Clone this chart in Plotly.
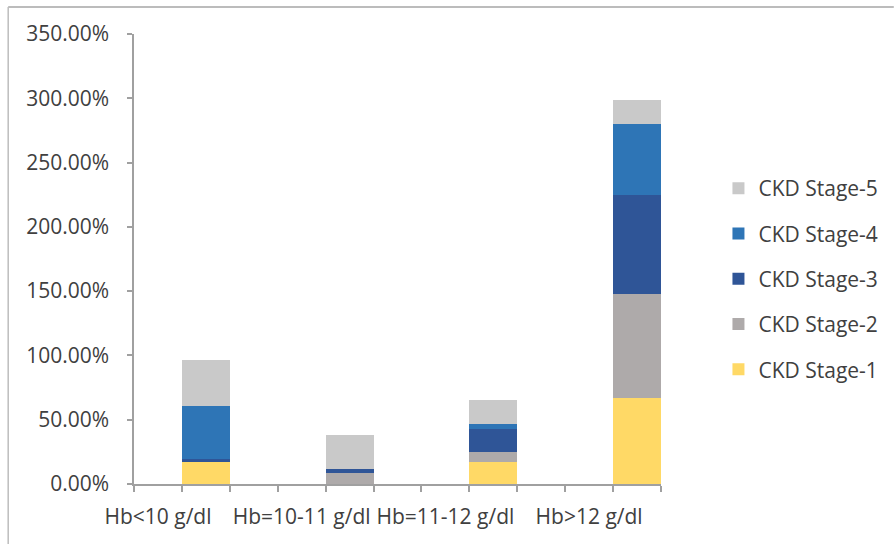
import plotly.graph_objects as go

# Hemoglobin groups and CKD stage shares (percent)
categories = ["Hb<10 g/dl", "Hb=10-11 g/dl", "Hb=11-12 g/dl", "Hb>12 g/dl"]
stage_names = ["CKD Stage-1", "CKD Stage-2", "CKD Stage-3", "CKD Stage-4", "CKD Stage-5"]
stage1 = [17.0, 0.0, 17.0, 67.0]
stage2 = [0.0, 8.7, 8.0, 81.0]
stage3 = [2.6, 3.1, 17.4, 76.7]
stage4 = [40.8, 0.0, 4.4, 55.3]
stage5 = [36.4, 26.5, 18.7, 18.9]
y_ticks = [0, 50, 100, 150, 200, 250, 300, 350]

series = [stage1, stage2, stage3, stage4, stage5]
colors = ["#FFD966", "#AEAAAA", "#2F5597", "#2E75B6", "#C9C9C9"]

# Each group occupies a slot of three category positions: label slot, bar slot, spacer
bar_pos = [3 * i + 1 for i in range(len(categories))]
label_pos = [3 * i for i in range(len(categories))]

FONT = "Open Sans"
TXT = "#404040"
AX = "#A0A0A0"

fig = go.Figure()
n = len(stage_names)
for i, (name, vals, col) in enumerate(zip(stage_names, series, colors)):
    fig.add_trace(go.Bar(
        x=bar_pos, y=vals, name=name, width=[1] * len(vals),
        marker=dict(color=col, line=dict(width=0)),
        legendgroup=name, legendrank=n - i,
    ))

W, H = 896, 544
ml, mr, mt, mb = 134, 230, 34, 60
pw, ph = W - ml - mr, H - mt - mb

def px(x):
    return (x - ml) / pw

def py(y):
    return 1 - (y - mt) / ph

fig.update_layout(
    width=W, height=H,
    margin=dict(l=ml, r=mr, t=mt, b=mb),
    barmode="stack", bargap=0,
    plot_bgcolor="white", paper_bgcolor="white",
    font=dict(family=FONT, size=21, color=TXT),
    legend=dict(
        traceorder="grouped", tracegroupgap=15,
        x=px(724), xanchor="left", y=py(168), yanchor="top",
        font=dict(family=FONT, size=21, color=TXT),
        itemwidth=30,
    ),
    xaxis=dict(
        range=[-0.5, 3 * len(categories) - 1.5],
        tickmode="array", tickvals=label_pos, ticktext=categories,
        ticks="", showline=True, linecolor=AX, linewidth=1.5,
        showgrid=False, zeroline=False, ticklabelstandoff=13,
        minor=dict(tick0=-0.5, dtick=1, ticks="outside", ticklen=6,
                   tickcolor=AX, tickwidth=1.5, showgrid=False),
    ),
    yaxis=dict(
        range=[0, 350], tickmode="array", tickvals=y_ticks,
        ticktext=[f"{v:.2f}%" for v in y_ticks],
        ticks="outside", ticklen=5, tickcolor=AX, tickwidth=1.5,
        showline=True, linecolor=AX, linewidth=1.5,
        showgrid=False, zeroline=False, ticklabelstandoff=14,
    ),
    shapes=[
        dict(type="line", xref="paper", yref="paper",
             x0=px(7), x1=px(W + 5), y0=py(7), y1=py(7),
             line=dict(color="#A6A6A6", width=1.5)),
        dict(type="line", xref="paper", yref="paper",
             x0=px(7), x1=px(7), y0=py(7), y1=py(H + 5),
             line=dict(color="#BDBDBD", width=1.5)),
    ],
)

fig.write_html("out.html")
